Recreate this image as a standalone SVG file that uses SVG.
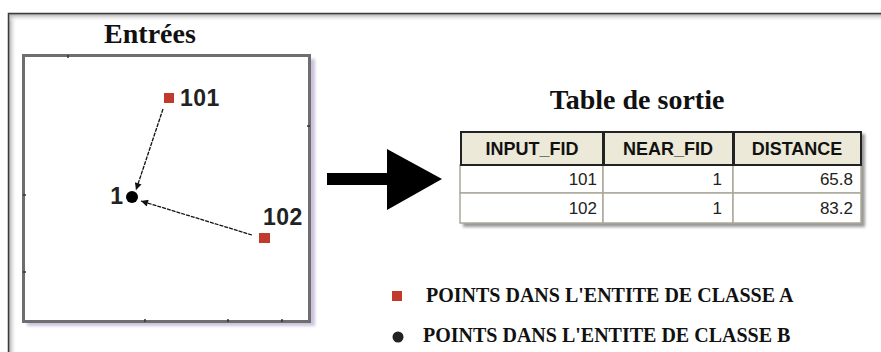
<svg xmlns="http://www.w3.org/2000/svg" width="881" height="352" viewBox="0 0 881 352">
<style>
.serif{font-family:"Liberation Serif","Times New Roman",serif;font-weight:bold;fill:#111}
.lbl{font-family:"Liberation Sans",Arial,sans-serif;font-weight:bold;font-size:23px;fill:#222}
.hdr{font-family:"Liberation Sans",Arial,sans-serif;font-weight:bold;font-size:18px;fill:#111;text-anchor:middle}
.dat{font-family:"Liberation Sans",Arial,sans-serif;font-size:17px;fill:#222;text-anchor:end}
.hcell{fill:#ece9d8;stroke:#222;stroke-width:2}
.dcell{fill:#fff;stroke:#aca899;stroke-width:1.5}
.ptA{fill:#c23a2b}
.tick{stroke:#333;stroke-width:1.5}
.conn{stroke:#111;stroke-width:1.3;fill:none;stroke-dasharray:4 1}
</style>
<defs>
<marker id="ah" viewBox="0 0 10 10" refX="10" refY="5" markerWidth="9" markerHeight="7" markerUnits="userSpaceOnUse" orient="auto">
<path d="M0,0 L10,5 L0,10 z" fill="#111"/>
</marker>
<linearGradient id="gl" x1="0" x2="1" y1="0" y2="0"><stop offset="0" stop-color="#aaa"/><stop offset="1" stop-color="#fff" stop-opacity="0"/></linearGradient>
<linearGradient id="gt" x1="0" x2="0" y1="0" y2="1"><stop offset="0" stop-color="#aaa"/><stop offset="1" stop-color="#fff" stop-opacity="0"/></linearGradient>
<filter id="blur" x="-5%" y="-5%" width="110%" height="110%"><feGaussianBlur stdDeviation="1.5"/></filter>
</defs>
<rect width="881" height="352" fill="#fff"/>
<g id="frame">
<rect x="9" y="14" width="8" height="338" fill="url(#gl)"/>
<rect x="9" y="14" width="872" height="8" fill="url(#gt)"/>
<path d="M8.5,352 V13.5 H881" fill="none" stroke="#3a3a3a" stroke-width="1.5"/>
</g>
<g id="map">
<rect x="27" y="59" width="288" height="267" fill="#cbc2de" filter="url(#blur)"/>
<rect x="23.5" y="55.5" width="286" height="266" fill="#fff" stroke="#6e6e6e" stroke-width="3"/>
<line class="tick" x1="68" y1="55" x2="68" y2="58"/>
<line class="tick" x1="310" y1="126" x2="307" y2="126"/>
<line class="tick" x1="23" y1="195" x2="26" y2="195"/>
<line class="tick" x1="23" y1="272" x2="26" y2="272"/>
<line class="tick" x1="145" y1="322" x2="145" y2="319"/>
<line class="tick" x1="228" y1="322" x2="228" y2="319"/>
<line class="tick" x1="282" y1="322" x2="282" y2="319"/>
</g>
<text class="serif" x="150" y="43" font-size="28" text-anchor="middle">Entrées</text>
<g id="connectors">
<line class="conn" x1="163" y1="109" x2="136" y2="190" marker-end="url(#ah)"/>
<line class="conn" x1="252" y1="235" x2="141" y2="201" marker-end="url(#ah)"/>
<polygon points="327,173 387,173 387,149 442,179 387,210 387,185 327,185" fill="#000"/>
</g>
<g id="p101">
<rect class="ptA" x="164" y="93" width="10" height="10"/>
<text class="lbl" x="180" y="106" letter-spacing="0.5">101</text>
</g>
<g id="p1">
<circle cx="132" cy="197" r="6" fill="#000"/>
<text class="lbl" x="123" y="204" text-anchor="end">1</text>
</g>
<g id="p102">
<rect class="ptA" x="259" y="233" width="11" height="10"/>
<text class="lbl" x="263" y="225" letter-spacing="0.5">102</text>
</g>
<text class="serif" x="637" y="109" font-size="28" text-anchor="middle">Table de sortie</text>
<g id="table">
<rect x="463" y="134" width="402" height="93" fill="#999" filter="url(#blur)"/>
<rect class="dcell" x="460" y="165" width="143" height="28"/>
<rect class="dcell" x="603" y="165" width="130" height="28"/>
<rect class="dcell" x="733" y="165" width="128" height="28"/>
<rect class="dcell" x="460" y="193" width="143" height="30"/>
<rect class="dcell" x="603" y="193" width="130" height="30"/>
<rect class="dcell" x="733" y="193" width="128" height="30"/>
<rect class="hcell" x="461" y="132" width="142" height="33"/>
<rect class="hcell" x="604" y="132" width="129" height="33"/>
<rect class="hcell" x="734" y="132" width="127" height="33"/>
<text class="hdr" x="532" y="155">INPUT_FID</text>
<text class="hdr" x="668" y="155">NEAR_FID</text>
<text class="hdr" x="797" y="155">DISTANCE</text>
<text class="dat" x="597" y="185">101</text>
<text class="dat" x="722" y="185">1</text>
<text class="dat" x="853" y="185">65.8</text>
<text class="dat" x="597" y="214">102</text>
<text class="dat" x="722" y="214">1</text>
<text class="dat" x="853" y="214">83.2</text>
</g>
<g id="legendA">
<rect class="ptA" x="392" y="291" width="10" height="10"/>
<text class="serif" x="426" y="302" font-size="20">POINTS DANS L'ENTITE DE CLASSE A</text>
</g>
<g id="legendB">
<circle cx="398" cy="337" r="5.5" fill="#222"/>
<text class="serif" x="423" y="342" font-size="20">POINTS DANS L'ENTITE DE CLASSE B</text>
</g>
</svg>
